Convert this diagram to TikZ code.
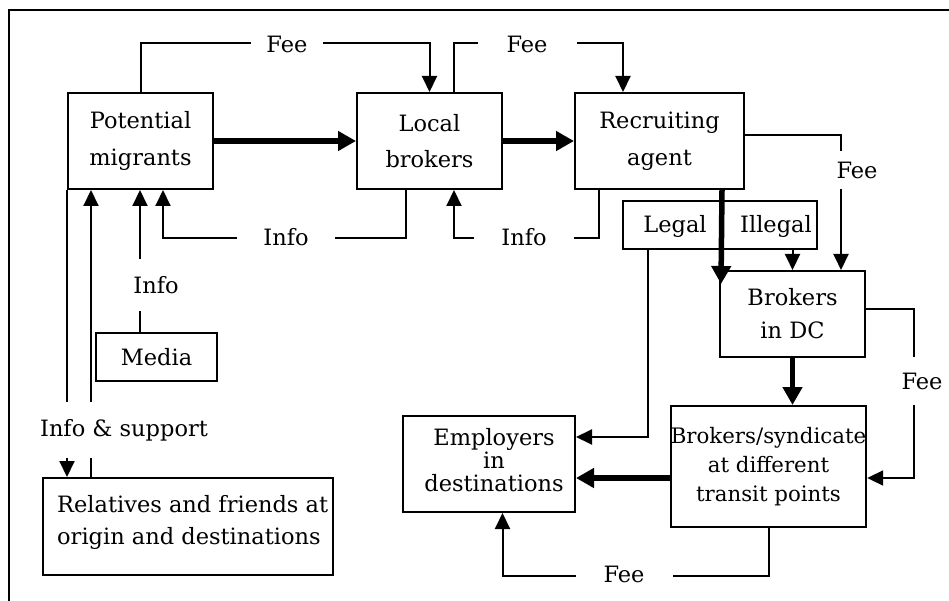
\documentclass[tikz,border=0pt]{standalone}
\usepackage{fontspec}
\setmainfont{DejaVu Serif}
\usetikzlibrary{arrows.meta}
\newcommand\fs{\fontsize{22.5}{36.5}\selectfont}
\begin{document}
\begin{tikzpicture}[x=1pt,y=-1pt,
  box/.style={draw, line width=2pt, inner sep=0pt, align=center, font=\fs},
  txt/.style={inner sep=0pt, font=\fs},
  arr/.style={line width=2pt, -{Triangle[length=16pt,width=15pt]}},
  thickarr/.style={line width=5.5pt, -{Triangle[length=18pt,width=19pt]}},
  lbl/.style={fill=white, inner ysep=2pt, inner xsep=2pt, font=\fs}]
\useasboundingbox (0,0) rectangle (949,601);
% frame
\draw[line width=2.5pt] (9,601) -- (9,10) -- (949,10);
% boxes
\node[box, minimum width=145pt, minimum height=96pt] (pm) at (140.5,141) {Potential\\migrants};
\node[box, minimum width=145pt, minimum height=96pt] (lb) at (429.5,141) {Local\\brokers};
\node[box, minimum width=169pt, minimum height=96pt] (ra) at (659.5,141) {Recruiting\\agent};
\node[box, minimum width=194pt, minimum height=48pt] (li) at (720,225) {};
\node[txt] (legal) at (675,226) {Legal};
\node[txt] (illegal) at (776,226) {Illegal};
\node[box, minimum width=145pt, minimum height=86pt, font=\fontsize{22.5}{33}\selectfont] (dc) at (792.5,314) {Brokers\\in DC};
\node[box, minimum width=195pt, minimum height=121pt, font=\fontsize{21.3}{29}\selectfont] (bs) at (768.5,466.5) {Brokers/syndicate\\at different\\transit points};
\node[box, minimum width=172pt, minimum height=96pt] (em) at (489,464) {};
\node[txt, align=center, font=\fontsize{22.5}{23}\selectfont] (emtxt) at (494,460) {Employers\\in\\destinations};
\node[box, minimum width=121pt, minimum height=48pt] (media) at (156.5,357) {Media};
\node[box, minimum width=290pt, minimum height=97pt] (rel) at (188,526.5) {};
\node[txt, anchor=north west, align=left, font=\fontsize{22.5}{32}\selectfont] (reltxt) at (57,495) {Relatives and friends at\\origin and destinations};
% connectors
\draw[arr] (pm.north) -- ++(0,-49) -| (lb.north);
\draw[arr] ([xshift=24.5pt]lb.north) -- ++(0,-49) -| ([xshift=-36.5pt]ra.north);
\draw[thickarr] (pm) -- (lb);
\draw[thickarr] (lb) -- (ra);
\draw[arr] ([xshift=-23.5pt]lb.south) -- ++(0,48) -| ([xshift=22.5pt]pm.south);
\draw[arr] ([xshift=-60.5pt]ra.south) -- ++(0,48) -| ([xshift=24.5pt]lb.south);
\draw[arr] ([xshift=-16.5pt]media.north) -- ([xshift=-0.5pt]pm.south);
\draw[arr] (pm.south west) -- (pm.south west |- rel.north);
\coordinate (c9a) at ([xshift=24pt]pm.south west);
\draw[arr] (c9a |- rel.north) -- (c9a);
\draw[arr] ([yshift=6pt]ra.east) -| ([xshift=48.5pt]dc.north);
\draw[arr] (li.south -| dc.north) -- (dc.north);
\draw[thickarr] ([xshift=62.5pt]ra.south) -- ([xshift=2pt,yshift=-14pt]dc.north west);
\draw[thickarr] (dc.south) -- (dc.south |- bs.north);
\draw[arr] ([yshift=5pt]dc.east) -- ++(48.3,0) |- ([yshift=-11.5pt]bs.east);
\coordinate (c15) at ([yshift=-11.5pt]bs.west);
\draw[thickarr] (c15) -- (c15 -| em.east);
\draw[arr] ([xshift=-72pt]li.south) |- ([yshift=27pt]em.east);
\draw[arr] (bs.south) -- ++(0,47.5) -| ([xshift=13.5pt]em.south);
% labels
\node[lbl, inner xsep=15pt] (fee1) at (287,44) {Fee};
\node[lbl, inner xsep=29pt] (fee2) at (527,44) {Fee};
\node[lbl, inner xsep=26pt] (info1) at (286,237) {Info};
\node[lbl, inner xsep=27pt] (info2) at (524,237) {Info};
\node[lbl, inner ysep=17pt] (info3) at (156,285) {Info};
\node[lbl, inner ysep=17pt] (infosup) at (124,430) {Info \& support};
\node[lbl, inner ysep=11pt] (fee3) at (857,170) {Fee};
\node[lbl, inner ysep=16pt] (fee4) at (922,381) {Fee};
\node[lbl, inner xsep=28pt] (fee5) at (624,574) {Fee};
\end{tikzpicture}
\end{document}
